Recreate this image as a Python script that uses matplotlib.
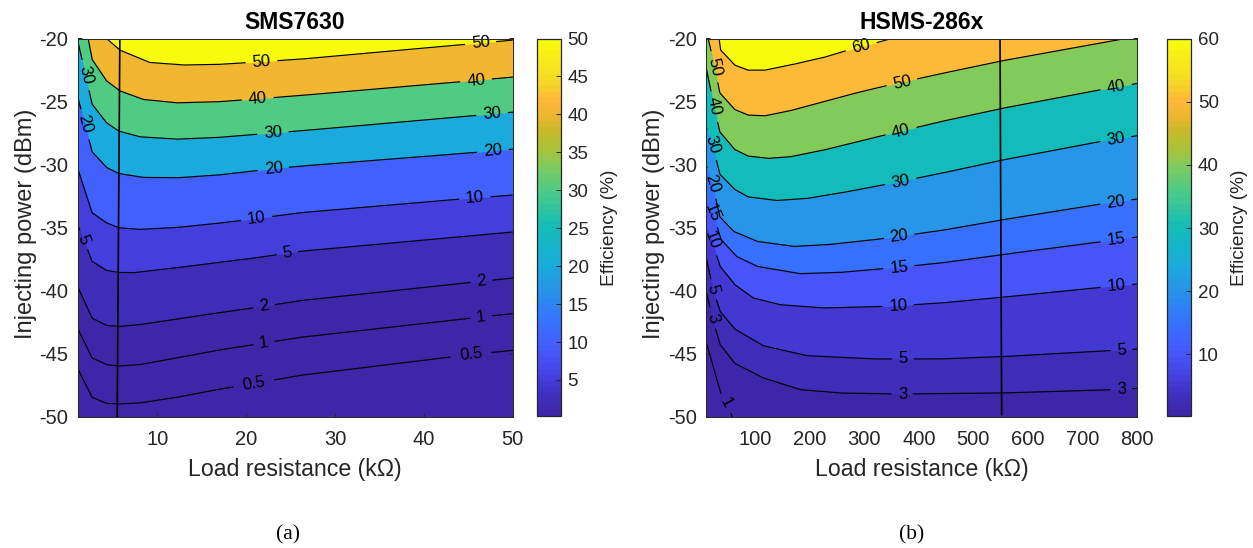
import numpy as np
import matplotlib
matplotlib.use("Agg")
import matplotlib.pyplot as plt
from matplotlib.cm import ScalarMappable
from matplotlib.colors import LinearSegmentedColormap, Normalize

plt.rcParams['font.family'] = ['Liberation Sans', 'DejaVu Sans']
plt.rcParams['axes.unicode_minus'] = False

# contour lines: load resistance (kOhm), injected power (dBm)
sms_r_0p5 = [1, 2.65, 4.27, 5.66, 8, 12.2, 16.7, 20.8, 26.06, 45.2, 50]
sms_p_0p5 = [-46.12, -48.44, -48.92, -48.97, -48.89, -48.44, -47.83, -47.36, -46.7, -45.06, -44.72]
sms_r_1 = [1, 2.65, 4.27, 5.66, 8, 12.2, 16.7, 22, 26.06, 46.4, 50]
sms_p_1 = [-42.95, -45.32, -45.85, -45.96, -45.85, -45.32, -44.72, -44.14, -43.69, -42.08, -41.81]
sms_r_2 = [1, 2.65, 4.27, 5.66, 8, 12.2, 16.7, 22, 26.06, 46.4, 50]
sms_p_2 = [-39.65, -42.16, -42.74, -42.82, -42.68, -42.23, -41.76, -41.23, -40.78, -39.25, -38.99]
sms_r_5 = [1, 2.65, 4.27, 5.66, 7.3, 11, 14.8, 20.4, 26.06, 50]
sms_p_5 = [-34.71, -37.66, -38.38, -38.54, -38.56, -38.27, -37.93, -37.45, -36.87, -35.34]
sms_r_10 = [1, 2.65, 4.27, 5.66, 8, 12.2, 16.7, 20.4, 26.06, 44.9, 50]
sms_p_10 = [-30.25, -33.81, -34.61, -35.0, -35.13, -34.98, -34.66, -34.34, -33.81, -32.68, -32.41]
sms_r_20 = [1, 2.65, 4.27, 5.66, 8.4, 12.2, 16.7, 22.3, 26.06, 46.7, 50]
sms_p_20 = [-24.57, -28.98, -30.22, -30.7, -31.01, -31.04, -30.83, -30.38, -30.12, -28.98, -28.77]
sms_r_30 = [1, 2.65, 4.27, 5.66, 8, 12.2, 16.7, 22.3, 26.06, 46.7, 50]
sms_p_30 = [-20.1, -25.2, -26.68, -27.34, -27.79, -27.98, -27.85, -27.53, -27.32, -26.05, -25.84]
sms_r_40 = [2.2, 2.65, 4.27, 5.77, 8.4, 12.2, 16.7, 20.4, 26.06, 44.9, 50]
sms_p_40 = [-20, -21.66, -23.35, -24.15, -24.83, -25.1, -25.02, -24.83, -24.52, -23.38, -23.06]
sms_r_50 = [4.27, 5.77, 9.15, 12.9, 16.7, 20.4, 26.06, 44.9, 50]
sms_p_50 = [-20, -20.92, -21.9, -22.1, -22.06, -21.9, -21.64, -20.45, -20.13]
sms_marker_r = [5.77, 5.47]
sms_marker_p = [-20, -50]

hsms_r_1 = [9, 37, 50, 66, 800]
hsms_p_1 = [-44, -48.23, -49.15, -51, -51]
hsms_r_3 = [9, 21, 35, 62, 114, 182, 256, 366, 551, 758, 800]
hsms_p_3 = [-40, -42.15, -44.26, -45.75, -46.9, -47.83, -48.1, -48.18, -48.1, -47.83, -47.73]
hsms_r_5 = [9, 22, 35, 62, 114, 194, 317, 439, 551, 758, 800]
hsms_p_5 = [-37.27, -39.9, -41.63, -43.03, -44.35, -45.14, -45.4, -45.4, -45.22, -44.72, -44.61]
hsms_r_10 = [9, 19.5, 35, 62, 96, 145, 225, 342, 439, 551, 740, 800]
hsms_p_10 = [-34.9, -36, -38.06, -39.51, -40.57, -41.1, -41.36, -41.23, -40.97, -40.52, -39.7, -39.46]
hsms_r_15 = [9, 21, 37, 65, 103, 182, 256, 348, 439, 551, 740, 800]
hsms_p_15 = [-32.8, -33.8, -35.95, -37.27, -38.06, -38.64, -38.54, -38.19, -37.8, -37.14, -36.08, -35.74]
hsms_r_20 = [9, 22, 34.4, 60, 103, 170.6, 232, 318, 439, 549, 740, 800]
hsms_p_20 = [-30, -31.75, -34.13, -35.29, -36.08, -36.48, -36.34, -35.95, -35.23, -34.4, -33.08, -32.73]
hsms_r_30 = [9, 21, 34.4, 62, 86.5, 138.6, 194, 255, 347, 439, 549, 740, 800]
hsms_p_30 = [-27, -28.4, -30.75, -31.97, -32.55, -32.84, -32.68, -32.25, -31.5, -30.7, -29.67, -28.11, -27.71]
hsms_r_40 = [9, 24, 34.4, 62, 86.5, 123, 163, 224.5, 286, 347, 439, 549, 740, 800]
hsms_p_40 = [-22.25, -25.4, -27.4, -28.8, -29.32, -29.5, -29.38, -28.85, -28.19, -27.55, -26.6, -25.57, -24.01, -23.57]
hsms_r_50 = [13, 25, 34.4, 62, 86.5, 117, 163, 224.5, 286, 347, 439, 549, 666, 780]
hsms_p_50 = [-20, -22.25, -24.31, -25.63, -26.07, -26.13, -25.73, -25.02, -24.3, -23.67, -22.8, -21.8, -20.88, -20]
hsms_r_60 = [33, 36, 62, 86.5, 117, 163, 224.5, 280, 316.6, 350]
hsms_p_60 = [-20, -20.92, -22.11, -22.51, -22.51, -22.11, -21.51, -20.79, -20.4, -20]
hsms_marker_r = [549, 552]
hsms_marker_p = [-20, -49.8]

sms_curves = [(0.5, sms_r_0p5, sms_p_0p5), (1, sms_r_1, sms_p_1), (2, sms_r_2, sms_p_2),
              (5, sms_r_5, sms_p_5), (10, sms_r_10, sms_p_10), (20, sms_r_20, sms_p_20),
              (30, sms_r_30, sms_p_30), (40, sms_r_40, sms_p_40), (50, sms_r_50, sms_p_50)]
hsms_curves = [(1, hsms_r_1, hsms_p_1), (3, hsms_r_3, hsms_p_3), (5, hsms_r_5, hsms_p_5),
               (10, hsms_r_10, hsms_p_10), (15, hsms_r_15, hsms_p_15), (20, hsms_r_20, hsms_p_20),
               (30, hsms_r_30, hsms_p_30), (40, hsms_r_40, hsms_p_40), (50, hsms_r_50, hsms_p_50),
               (60, hsms_r_60, hsms_p_60)]

# where along each line the inline label sits
sms_label_r = {0.5: [20.9, 45.3], 1: [22, 46.5], 2: [22, 46.5], 5: [1.7, 24.6], 10: [21.2, 45.8],
               20: [1.83, 23.1, 47.8], 30: [1.9, 23, 47.7], 40: [21.3, 45.9], 50: [21.75, 46.4]}
hsms_label_r = {1: [46.6], 3: [21, 370, 772], 5: [22, 370, 772], 10: [19.5, 362, 763],
                15: [21, 364, 763], 20: [20, 364, 762], 30: [21, 367, 762], 40: [24, 367, 762],
                50: [25, 369], 60: [294]}

parula_stops = [(0, '#3E26A8'), (0.05, '#3F2FBF'), (0.1, '#4540E0'), (0.167, '#4757FB'), (0.2, '#3F63FF'),
                (0.25, '#3573FF'), (0.333, '#2795E8'), (0.4, '#19ABDC'), (0.5, '#12BCB8'), (0.6, '#4DCB86'),
                (0.667, '#82CB5A'), (0.7, '#A3C43F'), (0.76, '#C9B92A'), (0.8, '#EFB72F'), (0.84, '#FDB938'),
                (0.9, '#F6DC24'), (1, '#F9FB0E')]
cmap = LinearSegmentedColormap.from_list('parula_like', parula_stops, N=64)
INK = '#262626'


def draw_curve(ax, xs, ys, level, label_xs):
    # resample in pixels so the line can be cut around its labels
    pts = ax.transData.transform(np.column_stack([xs, ys]))
    dist = np.r_[0, np.cumsum(np.hypot(*np.diff(pts, axis=0).T))]
    t = np.arange(0, dist[-1], 0.5)
    px = np.interp(t, dist, pts[:, 0])
    py = np.interp(t, dist, pts[:, 1])
    keep = np.ones(len(t), dtype=bool)
    text = f"{level:g}"
    for lx in label_xs:
        c = ax.transData.transform((lx, np.interp(lx, xs, ys)))
        i = np.argmin(np.hypot(px - c[0], py - c[1]))
        lo, hi = max(i - 10, 0), min(i + 10, len(t) - 1)
        angle = np.degrees(np.arctan2(py[hi] - py[lo], px[hi] - px[lo]))
        keep &= np.hypot(px - px[i], py - py[i]) > 6 + 5 * len(text)
        x_t, y_t = ax.transData.inverted().transform((px[i], py[i]))
        ax.text(x_t, y_t, text, fontsize=12, color='black', rotation=angle, rotation_mode='anchor',
                ha='center', va='center', zorder=6)
    line = ax.transData.inverted().transform(np.column_stack([px, py]))
    ax.plot(np.where(keep, line[:, 0], np.nan), np.where(keep, line[:, 1], np.nan),
            color='black', lw=0.85, zorder=4)


def draw_panel(fig, box, cbox, title, xlim, xticks, curves, label_r, marker_r, marker_p, vmax, cticks):
    W, H = fig.get_size_inches() * fig.dpi
    ax = fig.add_axes([box[0] / W, 1 - box[3] / H, (box[1] - box[0]) / W, (box[3] - box[2]) / H])
    norm = Normalize(0.25, vmax)
    ax.set_xlim(xlim)
    ax.set_ylim(-50, -20)
    ax.set_facecolor(cmap(norm(0.25)))

    for level, xs, ys in curves:
        ax.fill_between(xs, ys, -10, color=cmap(norm(level)), lw=0, zorder=2)
    for level, xs, ys in curves:
        draw_curve(ax, xs, ys, level, label_r[level])
    ax.plot(marker_r, marker_p, color='black', lw=1.2, zorder=5)

    ax.set_xticks(xticks)
    ax.set_yticks(np.arange(-50, -19, 5))
    ax.tick_params(direction='in', top=True, right=True, length=3, width=0.7, color=INK,
                   labelcolor=INK, labelsize=14.5)
    ax.tick_params(axis='x', pad=9.5)
    ax.tick_params(axis='y', pad=6.5)
    for spine in ax.spines.values():
        spine.set_color(INK)
        spine.set_linewidth(0.7)
        spine.set_zorder(7)
    ax.set_title(title, fontsize=16.5, fontweight='bold', color='black', pad=6.5)
    ax.set_xlabel('Load resistance (k\u03a9)', fontsize=16.7, color=INK, labelpad=6)
    ax.set_ylabel('Injecting power (dBm)', fontsize=17, color=INK, labelpad=2, y=0.51)

    cax = fig.add_axes([cbox[0] / W, 1 - cbox[3] / H, (cbox[1] - cbox[0]) / W, (cbox[3] - cbox[2]) / H])
    bar = fig.colorbar(ScalarMappable(norm=norm, cmap=cmap), cax=cax)
    bar.set_ticks(cticks)
    bar.ax.tick_params(direction='in', length=3.5, width=0.7, color=INK, labelcolor=INK, labelsize=13.5, pad=5)
    bar.outline.set_edgecolor(INK)
    bar.outline.set_linewidth(0.9)
    bar.set_label('Efficiency (%)', fontsize=13.8, color=INK, labelpad=9)
    return ax


def main():
    fig = plt.figure(figsize=(12.53, 5.48), dpi=100)
    draw_panel(fig, (77.5, 512.5, 38.5, 417), (536.7, 560.7, 38.5, 416), 'SMS7630', (1, 50),
               [10, 20, 30, 40, 50], sms_curves, sms_label_r, sms_marker_r, sms_marker_p, 50,
               [5, 10, 15, 20, 25, 30, 35, 40, 45, 50])
    draw_panel(fig, (706, 1136.7, 38.5, 417), (1166.7, 1191, 38.5, 416), 'HSMS-286x', (9, 800),
               [100, 200, 300, 400, 500, 600, 700, 800], hsms_curves, hsms_label_r, hsms_marker_r,
               hsms_marker_p, 60, [10, 20, 30, 40, 50, 60])
    fig.text(288 / 1253, 1 - 534.5 / 548, '(a)', family='Liberation Serif', fontsize=15.5, color='black',
             ha='center', va='center')
    fig.text(912 / 1253, 1 - 534.5 / 548, '(b)', family='Liberation Serif', fontsize=15.5, color='black',
             ha='center', va='center')
    fig.savefig('out.png', dpi=100)


main()
